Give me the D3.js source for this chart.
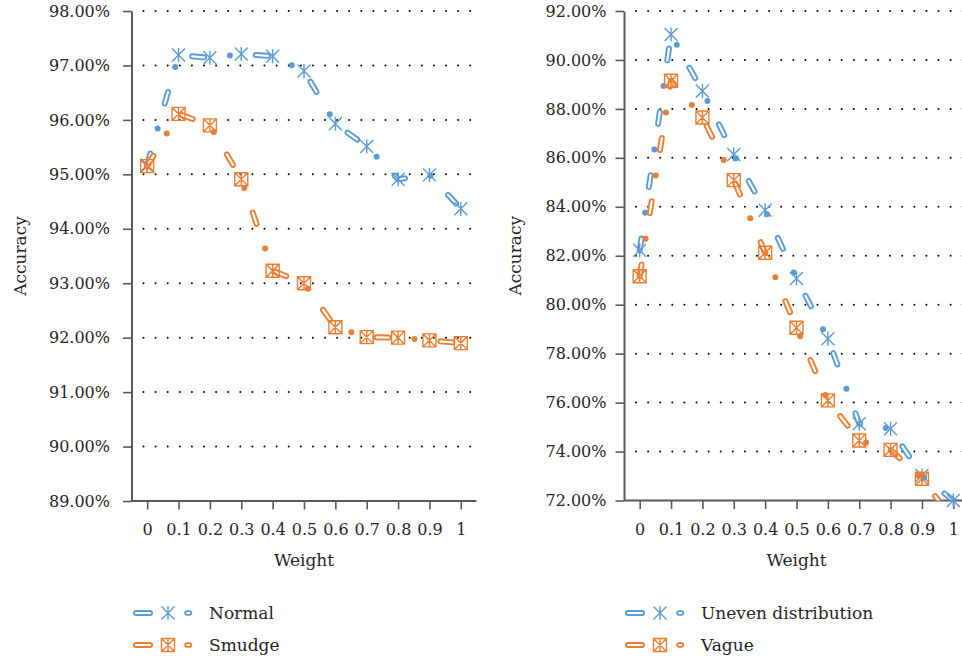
<!DOCTYPE html>
<html>
<head>
<meta charset="utf-8">
<script src="https://cdn.jsdelivr.net/npm/d3@7"></script>
<style>
  body { margin: 0; background: #fff; }
  svg text { font-family: "DejaVu Serif", serif; fill: #262626; }
</style>
</head>
<body>
<svg id="chart" width="962" height="662"></svg>
<script>
// ---- data ----
const weights = ["0", "0.1", "0.2", "0.3", "0.4", "0.5", "0.6", "0.7", "0.8", "0.9", "1"];

const normalAcc = [95.17, 97.19, 97.14, 97.21, 97.17, 96.90, 95.93, 95.51, 94.91, 94.99, 94.37];
const smudgeAcc = [95.15, 96.11, 95.90, 94.91, 93.23, 93.00, 92.19, 92.01, 92.00, 91.95, 91.90];

const unevenAcc = [82.22, 91.04, 88.73, 86.14, 83.86, 81.07, 78.61, 75.14, 74.93, 73.02, 72.00];
const vagueAcc  = [81.16, 89.15, 87.65, 85.09, 82.12, 79.06, 76.09, 74.45, 74.07, 72.89, 71.20];

const leftTicks  = [89, 90, 91, 92, 93, 94, 95, 96, 97, 98];
const rightTicks = [72, 74, 76, 78, 80, 82, 84, 86, 88, 90, 92];

const BLUE = "#5B9BD5", ORANGE = "#ED7D31";

// ---- layout of the two panels ----
const panels = [
  {
    series: [
      { name: "Normal", values: normalAcc, color: BLUE, marker: "asterisk" },
      { name: "Smudge", values: smudgeAcc, color: ORANGE, marker: "boxed" }
    ],
    domain: [89, 98], ticks: leftTicks,
    left: 131.5, right: 476.5, top: 11, bottom: 501,
    labelGap: 13, yTitleX: 26, legendX: 136
  },
  {
    series: [
      { name: "Uneven distribution", values: unevenAcc, color: BLUE, marker: "asterisk" },
      { name: "Vague", values: vagueAcc, color: ORANGE, marker: "boxed" }
    ],
    domain: [72, 92], ticks: rightTicks,
    left: 624, right: 969, top: 11, bottom: 500.5,
    labelGap: 9, yTitleX: 521, legendX: 628
  }
];

const TICK = 8.5;
const svg = d3.select("#chart");
const defs = svg.append("defs");

function markerPath(kind) {
  const r = 6.5;
  if (kind === "asterisk") {
    return `M${-r},${-r}L${r},${r}M${-r},${r}L${r},${-r}M0,${-r - 0.5}L0,${r + 0.5}`;
  }
  return `M${-r},${-r}H${r}V${r}H${-r}Z M${-r},${-r}L${r},${r}M${-r},${r}L${r},${-r}M0,${-r}L0,${r}`;
}

// long dash + dot pattern drawn as a hollow capsule line
function drawStyledLine(g, d, color) {
  g.append("path").attr("d", d)
    .attr("fill", "none").attr("stroke", color).attr("stroke-width", 6)
    .attr("stroke-linecap", "round").attr("stroke-linejoin", "round")
    .attr("stroke-dasharray", "12 26 0 26");
  g.append("path").attr("d", d)
    .attr("fill", "none").attr("stroke", "#fff").attr("stroke-width", 2.2)
    .attr("stroke-linecap", "round").attr("stroke-linejoin", "round")
    .attr("stroke-dasharray", "12 52");
}

panels.forEach((p, pi) => {
  const x = d3.scalePoint().domain(weights).range([p.left, p.right]).padding(0.5);
  const y = d3.scaleLinear().domain(p.domain).range([p.bottom, p.top]);
  const g = svg.append("g");

  // dotted gridlines
  g.append("g").selectAll("line")
    .data(p.ticks.slice(1))
    .join("line")
    .attr("x1", p.left + 12).attr("x2", p.right)
    .attr("y1", d => y(d)).attr("y2", d => y(d))
    .attr("stroke", "#000").attr("stroke-width", 2)
    .attr("stroke-linecap", "round")
    .attr("stroke-dasharray", "0 12.1");

  // y axis
  const yAxis = g.append("g").attr("transform", `translate(${p.left},0)`)
    .call(d3.axisLeft(y).tickValues(p.ticks)
      .tickFormat(d => d.toFixed(2) + "%")
      .tickSize(TICK).tickSizeOuter(0).tickPadding(p.labelGap));
  yAxis.select(".domain").attr("stroke", "#595959").attr("stroke-width", 2);
  yAxis.selectAll(".tick line").attr("stroke", "#595959").attr("stroke-width", 1.6);
  yAxis.selectAll(".tick text").attr("font-size", 16);

  // x axis
  const xAxis = g.append("g").attr("transform", `translate(0,${p.bottom})`)
    .call(d3.axisBottom(x).tickSize(TICK).tickSizeOuter(0));
  xAxis.select(".domain").attr("stroke", "#595959").attr("stroke-width", 2)
    .attr("d", `M${p.left},0H${p.right}`);
  xAxis.selectAll(".tick line").attr("stroke", "#595959").attr("stroke-width", 1.6);
  xAxis.selectAll(".tick text").attr("font-size", 16)
    .attr("y", 535 - p.bottom).attr("dy", null);

  // axis titles
  g.append("text").attr("x", (p.left + p.right) / 2).attr("y", 566)
    .attr("text-anchor", "middle").attr("font-size", 17).text("Weight");
  g.append("text")
    .attr("transform", `translate(${p.yTitleX},${(p.top + p.bottom) / 2}) rotate(-90)`)
    .attr("text-anchor", "middle").attr("font-size", 17).text("Accuracy");

  // clip for the series at the plot area
  const clipId = "plot-clip-" + pi;
  defs.append("clipPath").attr("id", clipId)
    .append("rect").attr("x", p.left).attr("y", 0)
    .attr("width", 962 - p.left).attr("height", p.bottom);

  const line = d3.line().x((d, i) => x(weights[i])).y(d => y(d));

  p.series.forEach((s, si) => {
    const sg = g.append("g").attr("clip-path", `url(#${clipId})`);
    drawStyledLine(sg, line(s.values), s.color);
    g.append("g").selectAll("path")
      .data(s.values.map((v, i) => ({ v, w: weights[i] }))
        .filter(d => d.v >= p.domain[0] && d.v <= p.domain[1]))
      .join("path")
      .attr("transform", d => `translate(${x(d.w)},${y(d.v)})`)
      .attr("d", markerPath(s.marker))
      .attr("fill", "none").attr("stroke", s.color).attr("stroke-width", 1.4);

    // legend row
    const ly = 613 + si * 32;
    const lg = svg.append("g").attr("transform", `translate(${p.legendX},${ly})`);
    lg.append("line").attr("x1", 0).attr("x2", 14).attr("y1", 0).attr("y2", 0)
      .attr("stroke", s.color).attr("stroke-width", 6).attr("stroke-linecap", "round");
    lg.append("line").attr("x1", 0).attr("x2", 14).attr("y1", 0).attr("y2", 0)
      .attr("stroke", "#fff").attr("stroke-width", 2.2).attr("stroke-linecap", "round");
    lg.append("path").attr("transform", "translate(32,0)")
      .attr("d", markerPath(s.marker))
      .attr("fill", "none").attr("stroke", s.color).attr("stroke-width", 1.4);
    lg.append("line").attr("x1", 51).attr("x2", 53.5).attr("y1", 0).attr("y2", 0)
      .attr("stroke", s.color).attr("stroke-width", 5.5).attr("stroke-linecap", "round");
    lg.append("line").attr("x1", 51).attr("x2", 53.5).attr("y1", 0).attr("y2", 0)
      .attr("stroke", "#fff").attr("stroke-width", 1.8).attr("stroke-linecap", "round");
    lg.append("text").attr("x", 73).attr("y", 6).attr("font-size", 17).text(s.name);
  });
});
</script>
</body>
</html>
